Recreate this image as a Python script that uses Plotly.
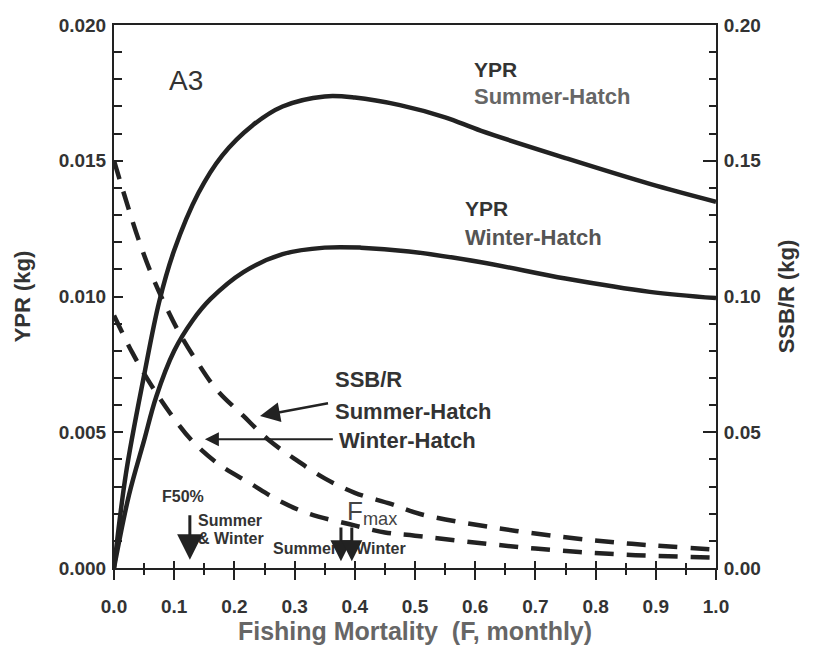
import plotly.graph_objects as go

# ---- data ----
F_ypr_summer = [0, 0.02, 0.05, 0.075, 0.10, 0.14, 0.18, 0.23, 0.28, 0.35, 0.40, 0.475, 0.55, 0.61, 0.75, 0.89, 1.0]
ypr_summer = [0, 0.0035, 0.0071, 0.0098, 0.0117, 0.0138, 0.0152, 0.0163, 0.0170, 0.01737, 0.01733,
              0.01705, 0.0166, 0.0161, 0.0151, 0.01415, 0.01349]

F_ypr_winter = [0, 0.025, 0.05, 0.07, 0.10, 0.13, 0.16, 0.215, 0.28, 0.35, 0.41, 0.49, 0.61, 0.75, 0.89, 1.0]
ypr_winter = [0, 0.0027, 0.0047, 0.0063, 0.0080, 0.0091, 0.0099, 0.0109, 0.01156, 0.0118, 0.0118,
              0.01166, 0.01126, 0.01066, 0.01017, 0.00994]

F_ssb_summer = [0, 0.04, 0.065, 0.085, 0.11, 0.137, 0.17, 0.215, 0.255, 0.30, 0.35, 0.40, 0.46, 0.51,
                0.63, 0.75, 0.86, 1.0]
ssb_summer = [0.150, 0.1215, 0.1067, 0.0969, 0.086, 0.0763, 0.0658, 0.056, 0.0475, 0.0402, 0.033,
              0.0277, 0.0236, 0.0198, 0.0149, 0.0113, 0.0089, 0.0068]

F_ssb_winter = [0, 0.03, 0.06, 0.093, 0.132, 0.176, 0.226, 0.276, 0.326, 0.39, 0.45, 0.50, 0.62,
                0.735, 0.85, 1.0]
ssb_winter = [0.093, 0.0795, 0.068, 0.0571, 0.0463, 0.0379, 0.0312, 0.0246, 0.0198, 0.0162, 0.0131,
              0.0119, 0.0089, 0.0065, 0.0049, 0.0038]

x_ticks = [0.0, 0.1, 0.2, 0.3, 0.4, 0.5, 0.6, 0.7, 0.8, 0.9, 1.0]
x_tick_labels = ["0.0", "0.1", "0.2", "0.3", "0.4", "0.5", "0.6", "0.7", "0.8", "0.9", "1.0"]
ypr_ticks = [0.000, 0.005, 0.010, 0.015, 0.020]
ypr_tick_labels = ["0.000", "0.005", "0.010", "0.015", "0.020"]
ssb_ticks = [0.00, 0.05, 0.10, 0.15, 0.20]
ssb_tick_labels = ["0.00", "0.05", "0.10", "0.15", "0.20"]

F50_value = 0.126
Fmax_summer = 0.377
Fmax_winter = 0.395

# ---- style ----
INK = "#222222"
FONT = "Liberation Sans"
LW = 4.5

fig = go.Figure()
fig.add_trace(go.Scatter(x=F_ypr_summer, y=ypr_summer, mode="lines", line=dict(color=INK, width=LW, shape="spline"),
                         name="YPR Summer-Hatch"))
fig.add_trace(go.Scatter(x=F_ypr_winter, y=ypr_winter, mode="lines", line=dict(color=INK, width=LW, shape="spline"),
                         name="YPR Winter-Hatch"))
fig.add_trace(go.Scatter(x=F_ssb_summer, y=ssb_summer, mode="lines", yaxis="y2",
                         line=dict(color=INK, width=LW, dash="19px,13px", shape="spline"), name="SSB/R Summer-Hatch"))
fig.add_trace(go.Scatter(x=F_ssb_winter, y=ssb_winter, mode="lines", yaxis="y2",
                         line=dict(color=INK, width=LW, dash="19px,13px", shape="spline"), name="SSB/R Winter-Hatch"))
# invisible trace to carry the overlay x axis (inside half of crossing ticks)
fig.add_trace(go.Scatter(x=[0, 1], y=[0, 0], xaxis="x2", mode="lines", line=dict(width=0),
                         hoverinfo="skip", showlegend=False))

tickfont = dict(family=FONT, size=19, color="#333333", weight="bold")

fig.update_layout(
    width=805, height=657,
    margin=dict(l=106, r=97, t=7, b=97),
    paper_bgcolor="white", plot_bgcolor="white",
    showlegend=False,
    font=dict(family=FONT, color=INK),
    xaxis=dict(range=[0, 1], tickvals=x_ticks, ticktext=x_tick_labels, ticks="outside", ticklen=10,
               tickwidth=1.5, tickcolor=INK, showline=True, linecolor=INK, linewidth=2, mirror=True,
               showgrid=False, zeroline=False, tickfont=tickfont, ticklabelstandoff=10,
               ticklabeloverflow="allow",
               minor=dict(dtick=0.05, ticks="outside", ticklen=5, tickwidth=1.5, tickcolor=INK),
               title=dict(text="Fishing Mortality  (F, monthly)",
                          font=dict(family=FONT, size=25, color="#666666", weight="bold"), standoff=6)),
    xaxis2=dict(range=[0, 1], overlaying="x", anchor="y", side="bottom", tickvals=x_ticks, ticks="inside",
                ticklen=7, tickwidth=1.5, tickcolor=INK, showticklabels=False, showline=False,
                showgrid=False, zeroline=False,
                minor=dict(dtick=0.05, ticks="inside", ticklen=5, tickwidth=1.5, tickcolor=INK)),
    yaxis=dict(range=[0, 0.020], tickvals=ypr_ticks, ticktext=ypr_tick_labels, ticks="inside", ticklen=9,
               tickwidth=1.5, tickcolor=INK, showline=True, linecolor=INK, linewidth=2,
               showgrid=False, zeroline=False, tickfont=tickfont, ticklabelstandoff=2,
               ticklabeloverflow="allow",
               minor=dict(dtick=0.001, ticks="inside", ticklen=8, tickwidth=1.5, tickcolor=INK),
               title=dict(text="YPR (kg)", font=dict(family=FONT, size=22, color="#333333", weight="bold"),
                          standoff=22)),
    yaxis2=dict(range=[0, 0.20], overlaying="y", side="right", anchor="x", tickvals=ssb_ticks,
                ticktext=ssb_tick_labels, ticks="inside", ticklen=13, tickwidth=1.5, tickcolor=INK,
                showline=True, linecolor=INK, linewidth=2, showgrid=False, zeroline=False,
                tickfont=tickfont, ticklabelstandoff=2, ticklabeloverflow="allow",
                minor=dict(dtick=0.01, ticks="inside", ticklen=7, tickwidth=1.5, tickcolor=INK),
                title=dict(text="SSB/R (kg)", font=dict(family=FONT, size=22, color="#333333", weight="bold"),
                           standoff=18)),
)

def label(x, y, text, size=22, color="#333333", bold=True, xanchor="left"):
    fig.add_annotation(x=x, y=y, xref="x", yref="y", text=text, showarrow=False, xanchor=xanchor,
                       yanchor="middle",
                       font=dict(family=FONT, size=size, color=color, weight="bold" if bold else "normal"))

label(0.12, 0.01794, "A3", size=28, bold=False, xanchor="center")
label(0.595, 0.01837, "YPR", size=21)
label(0.595, 0.01736, "Summer-Hatch", size=22, color="#666666")
label(0.580, 0.01324, "YPR", size=21)
label(0.580, 0.01219, "Winter-Hatch", size=22, color="#555555")
label(0.364, 0.00694, "SSB/R", size=22)
label(0.364, 0.00575, "Summer-Hatch", size=22)
label(0.371, 0.00470, "Winter-Hatch", size=22)
label(0.076, 0.00264, "F50%", size=16)
label(0.136, 0.00174, "Summer", size=16)
label(0.136, 0.00108, "& Winter", size=16)
label(0.384, 0.00205, "F<sub>max</sub>", size=26, color="#444444", bold=False)
label(0.374, 0.00072, "Summer", size=16, xanchor="right")
label(0.398, 0.00072, "Winter", size=16)

def arrow(x, y, ax, ay, size=1.4, width=2.5):
    fig.add_annotation(x=x, y=y, xref="x", yref="y", ax=ax, ay=ay, axref="x", ayref="y", text="",
                       showarrow=True, arrowhead=2, arrowsize=size, arrowwidth=width, arrowcolor=INK)

# SSB/R pointers
arrow(0.2425, 0.00560, 0.358, 0.00608, size=1.6, width=2.5)
arrow(0.151, 0.00474, 0.366, 0.00474, size=1.4, width=2)
# F50% and Fmax markers
arrow(F50_value, 0.00030, F50_value, 0.00200, size=1.7, width=3)
arrow(Fmax_summer, 0.00025, Fmax_summer, 0.00155, size=1.4, width=3)
arrow(Fmax_winter, 0.00025, Fmax_winter, 0.00155, size=1.4, width=3)

fig.write_html("out.html")
